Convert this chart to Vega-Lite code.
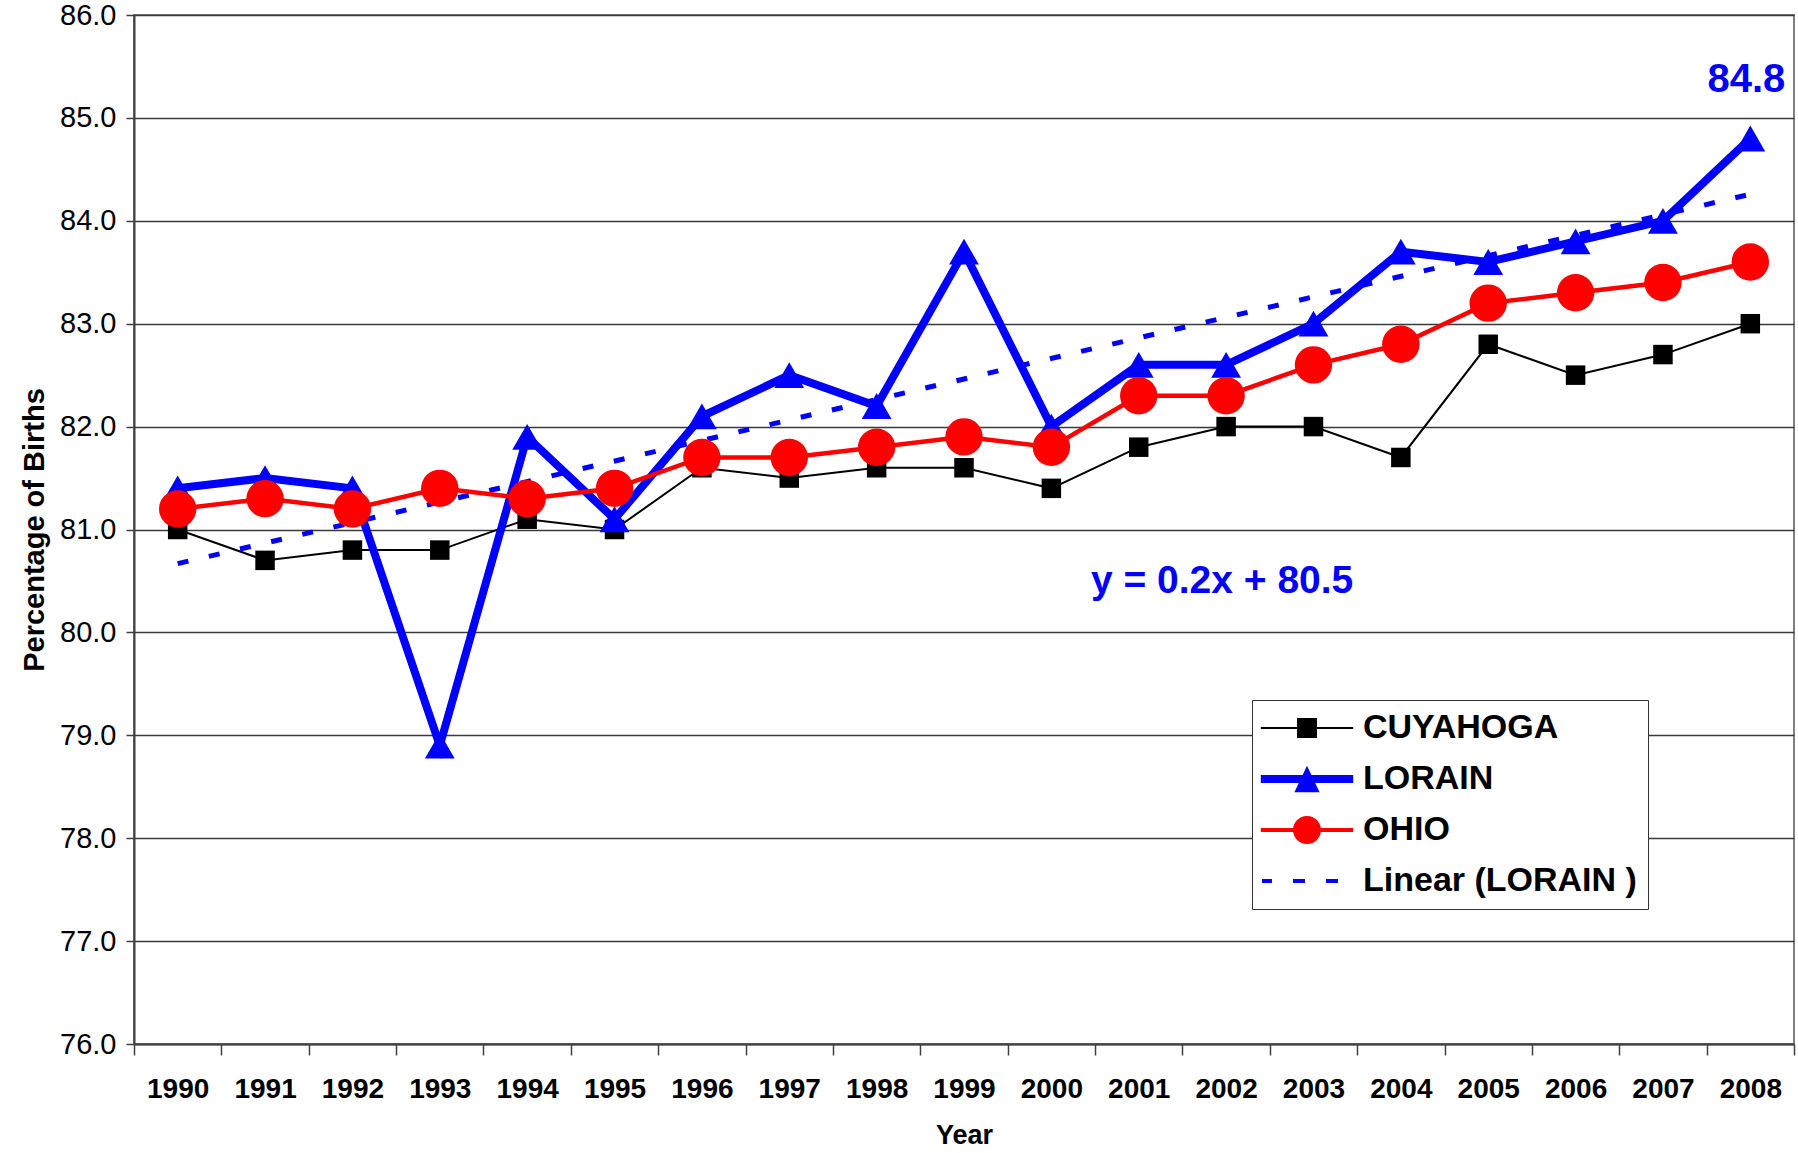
{
  "$schema": "https://vega.github.io/schema/vega-lite/v6.json",
  "width": 1660,
  "height": 1029,
  "autosize": {"type": "none"},
  "padding": {"left": 134, "top": 15, "right": 4, "bottom": 109},
  "background": "white",
  "config": {
    "font": "Liberation Sans",
    "view": {"stroke": "#808080", "strokeWidth": 2},
    "axis": {"labelColor": "#000", "titleColor": "#000"}
  },
  "datasets": {
    "births": [
      {"year": 1990, "series": "CUYAHOGA", "value": 81.0},
      {"year": 1991, "series": "CUYAHOGA", "value": 80.7},
      {"year": 1992, "series": "CUYAHOGA", "value": 80.8},
      {"year": 1993, "series": "CUYAHOGA", "value": 80.8},
      {"year": 1994, "series": "CUYAHOGA", "value": 81.1},
      {"year": 1995, "series": "CUYAHOGA", "value": 81.0},
      {"year": 1996, "series": "CUYAHOGA", "value": 81.6},
      {"year": 1997, "series": "CUYAHOGA", "value": 81.5},
      {"year": 1998, "series": "CUYAHOGA", "value": 81.6},
      {"year": 1999, "series": "CUYAHOGA", "value": 81.6},
      {"year": 2000, "series": "CUYAHOGA", "value": 81.4},
      {"year": 2001, "series": "CUYAHOGA", "value": 81.8},
      {"year": 2002, "series": "CUYAHOGA", "value": 82.0},
      {"year": 2003, "series": "CUYAHOGA", "value": 82.0},
      {"year": 2004, "series": "CUYAHOGA", "value": 81.7},
      {"year": 2005, "series": "CUYAHOGA", "value": 82.8},
      {"year": 2006, "series": "CUYAHOGA", "value": 82.5},
      {"year": 2007, "series": "CUYAHOGA", "value": 82.7},
      {"year": 2008, "series": "CUYAHOGA", "value": 83.0},
      {"year": 1990, "series": "LORAIN", "value": 81.4},
      {"year": 1991, "series": "LORAIN", "value": 81.5},
      {"year": 1992, "series": "LORAIN", "value": 81.4},
      {"year": 1993, "series": "LORAIN", "value": 78.9},
      {"year": 1994, "series": "LORAIN", "value": 81.9},
      {"year": 1995, "series": "LORAIN", "value": 81.1},
      {"year": 1996, "series": "LORAIN", "value": 82.1},
      {"year": 1997, "series": "LORAIN", "value": 82.5},
      {"year": 1998, "series": "LORAIN", "value": 82.2},
      {"year": 1999, "series": "LORAIN", "value": 83.7},
      {"year": 2000, "series": "LORAIN", "value": 82.0},
      {"year": 2001, "series": "LORAIN", "value": 82.6},
      {"year": 2002, "series": "LORAIN", "value": 82.6},
      {"year": 2003, "series": "LORAIN", "value": 83.0},
      {"year": 2004, "series": "LORAIN", "value": 83.7},
      {"year": 2005, "series": "LORAIN", "value": 83.6},
      {"year": 2006, "series": "LORAIN", "value": 83.8},
      {"year": 2007, "series": "LORAIN", "value": 84.0},
      {"year": 2008, "series": "LORAIN", "value": 84.8},
      {"year": 1990, "series": "OHIO", "value": 81.2},
      {"year": 1991, "series": "OHIO", "value": 81.3},
      {"year": 1992, "series": "OHIO", "value": 81.2},
      {"year": 1993, "series": "OHIO", "value": 81.4},
      {"year": 1994, "series": "OHIO", "value": 81.3},
      {"year": 1995, "series": "OHIO", "value": 81.4},
      {"year": 1996, "series": "OHIO", "value": 81.7},
      {"year": 1997, "series": "OHIO", "value": 81.7},
      {"year": 1998, "series": "OHIO", "value": 81.8},
      {"year": 1999, "series": "OHIO", "value": 81.9},
      {"year": 2000, "series": "OHIO", "value": 81.8},
      {"year": 2001, "series": "OHIO", "value": 82.3},
      {"year": 2002, "series": "OHIO", "value": 82.3},
      {"year": 2003, "series": "OHIO", "value": 82.6},
      {"year": 2004, "series": "OHIO", "value": 82.8},
      {"year": 2005, "series": "OHIO", "value": 83.2},
      {"year": 2006, "series": "OHIO", "value": 83.3},
      {"year": 2007, "series": "OHIO", "value": 83.4},
      {"year": 2008, "series": "OHIO", "value": 83.6}
    ],
    "notes": [
      {"year": 2002, "value": 80.5, "note": "y = 0.2x + 80.5"}
    ]
  },
  "encoding": {
    "x": {
      "field": "year",
      "type": "ordinal",
      "scale": {"type": "band", "paddingInner": 0, "paddingOuter": 0},
      "axis": {
        "title": "Year",
        "titleFontSize": 27,
        "titleFontWeight": "bold",
        "titlePadding": 19,
        "labelAngle": 0,
        "labelFontSize": 28,
        "labelFontWeight": "bold",
        "labelPadding": 20,
        "tickBand": "extent",
        "tickSize": 11,
        "tickColor": "#404040",
        "tickWidth": 1.5,
        "domainColor": "#404040",
        "domainWidth": 2,
        "grid": false
      }
    },
    "y": {
      "field": "value",
      "type": "quantitative",
      "scale": {"domain": [76, 86], "nice": false, "zero": false},
      "axis": {
        "title": "Percentage of Births",
        "titleFontSize": 29,
        "titleFontWeight": "bold",
        "titlePadding": 10,
        "values": [76, 77, 78, 79, 80, 81, 82, 83, 84, 85, 86],
        "format": ".1f",
        "labelFontSize": 29,
        "labelPadding": 10,
        "tickSize": 8,
        "tickColor": "#404040",
        "tickWidth": 1.5,
        "domainColor": "#404040",
        "domainWidth": 2,
        "grid": true,
        "gridColor": "#3a3a3a",
        "gridWidth": 1.3
      }
    }
  },
  "layer": [
    {
      "data": {"name": "births"},
      "transform": [
        {"filter": "datum.series === 'LORAIN'"},
        {"regression": "value", "on": "year"}
      ],
      "mark": {"type": "line", "strokeDash": [11, 21], "strokeWidth": 5},
      "encoding": {
        "color": {"datum": "Linear (LORAIN )", "type": "nominal"}
      }
    },
    {
      "data": {"name": "births"},
      "transform": [{"filter": "datum.series === 'CUYAHOGA'"}],
      "mark": {"type": "line", "strokeWidth": 2},
      "encoding": {
        "color": {
          "field": "series",
          "type": "nominal",
          "scale": {
            "domain": ["CUYAHOGA", "LORAIN", "OHIO", "Linear (LORAIN )"],
            "range": ["#000000", "#0000ff", "#ff0000", "#0000ff"]
          },
          "legend": {
            "title": null,
            "orient": "none",
            "legendX": 1118,
            "legendY": 685,
            "padding": 11,
            "rowPadding": 17,
            "labelFont": "Liberation Sans",
            "labelFontSize": 34,
            "labelFontWeight": "bold",
            "labelColor": "#000",
            "labelLimit": 600,
            "labelOffset": 66,
            "symbolSize": 576,
            "strokeColor": "#333333",
            "fillColor": "#ffffff",
            "encode": {
              "symbols": {
                "update": {
                  "shape": {"signal": "datum.value === 'CUYAHOGA' ? 'M-1.6,-0.09H6.1V0.09H-1.6ZM1.42,-0.83H3.08V0.83H1.42Z' : datum.value === 'LORAIN' ? 'M-1.6,-0.33H6.1V0.33H-1.6ZM2.25,-1.1L3.3,1.1H1.2Z' : datum.value === 'OHIO' ? 'M-1.6,-0.17H6.1V0.17H-1.6ZM3.42,0A1.17,1.17 0 1,1 1.08,0A1.17,1.17 0 1,1 3.42,0Z' : 'M-1.5,-0.17H-0.67V0.17H-1.5ZM1.08,-0.17H2.08V0.17H1.08ZM3.83,-0.17H4.83V0.17H3.83Z'"},
                  "fill": {"signal": "datum.value === 'CUYAHOGA' ? '#000000' : datum.value === 'OHIO' ? '#ff0000' : '#0000ff'"},
                  "stroke": {"value": "transparent"},
                  "strokeWidth": {"value": 0},
                  "opacity": {"value": 1},
                  "fillOpacity": {"value": 1}
                }
              }
            }
          }
        }
      }
    },
    {
      "data": {"name": "births"},
      "transform": [{"filter": "datum.series === 'LORAIN'"}],
      "mark": {"type": "line", "strokeWidth": 8},
      "encoding": {
        "color": {"field": "series", "type": "nominal"}
      }
    },
    {
      "data": {"name": "births"},
      "transform": [{"filter": "datum.series === 'OHIO'"}],
      "mark": {"type": "line", "strokeWidth": 4.5},
      "encoding": {
        "color": {"field": "series", "type": "nominal"}
      }
    },
    {
      "data": {"name": "births"},
      "mark": {"type": "point", "filled": true, "opacity": 1, "strokeWidth": 0},
      "encoding": {
        "color": {"field": "series", "type": "nominal"},
        "shape": {
          "field": "series",
          "type": "nominal",
          "scale": {"domain": ["CUYAHOGA", "LORAIN", "OHIO"], "range": ["square", "triangle-up", "circle"]},
          "legend": null
        },
        "size": {
          "field": "series",
          "type": "nominal",
          "scale": {"domain": ["CUYAHOGA", "LORAIN", "OHIO"], "range": [380, 1400, 960]},
          "legend": null
        }
      }
    },
    {
      "data": {"name": "births"},
      "transform": [
        {"filter": "datum.series === 'LORAIN' && datum.year === 2008"}
      ],
      "mark": {"type": "text", "font": "Liberation Sans", "fontSize": 40, "fontWeight": "bold", "color": "#0000ff", "baseline": "alphabetic", "align": "center", "dy": -46, "dx": -4},
      "encoding": {
        "text": {"field": "value", "type": "quantitative", "format": ".1f"}
      }
    },
    {
      "data": {"name": "notes"},
      "mark": {"type": "text", "font": "Liberation Sans", "fontSize": 39, "fontWeight": "bold", "color": "#0000ff", "baseline": "middle", "align": "center", "dx": -4},
      "encoding": {
        "text": {"field": "note", "type": "nominal"}
      }
    }
  ]
}
